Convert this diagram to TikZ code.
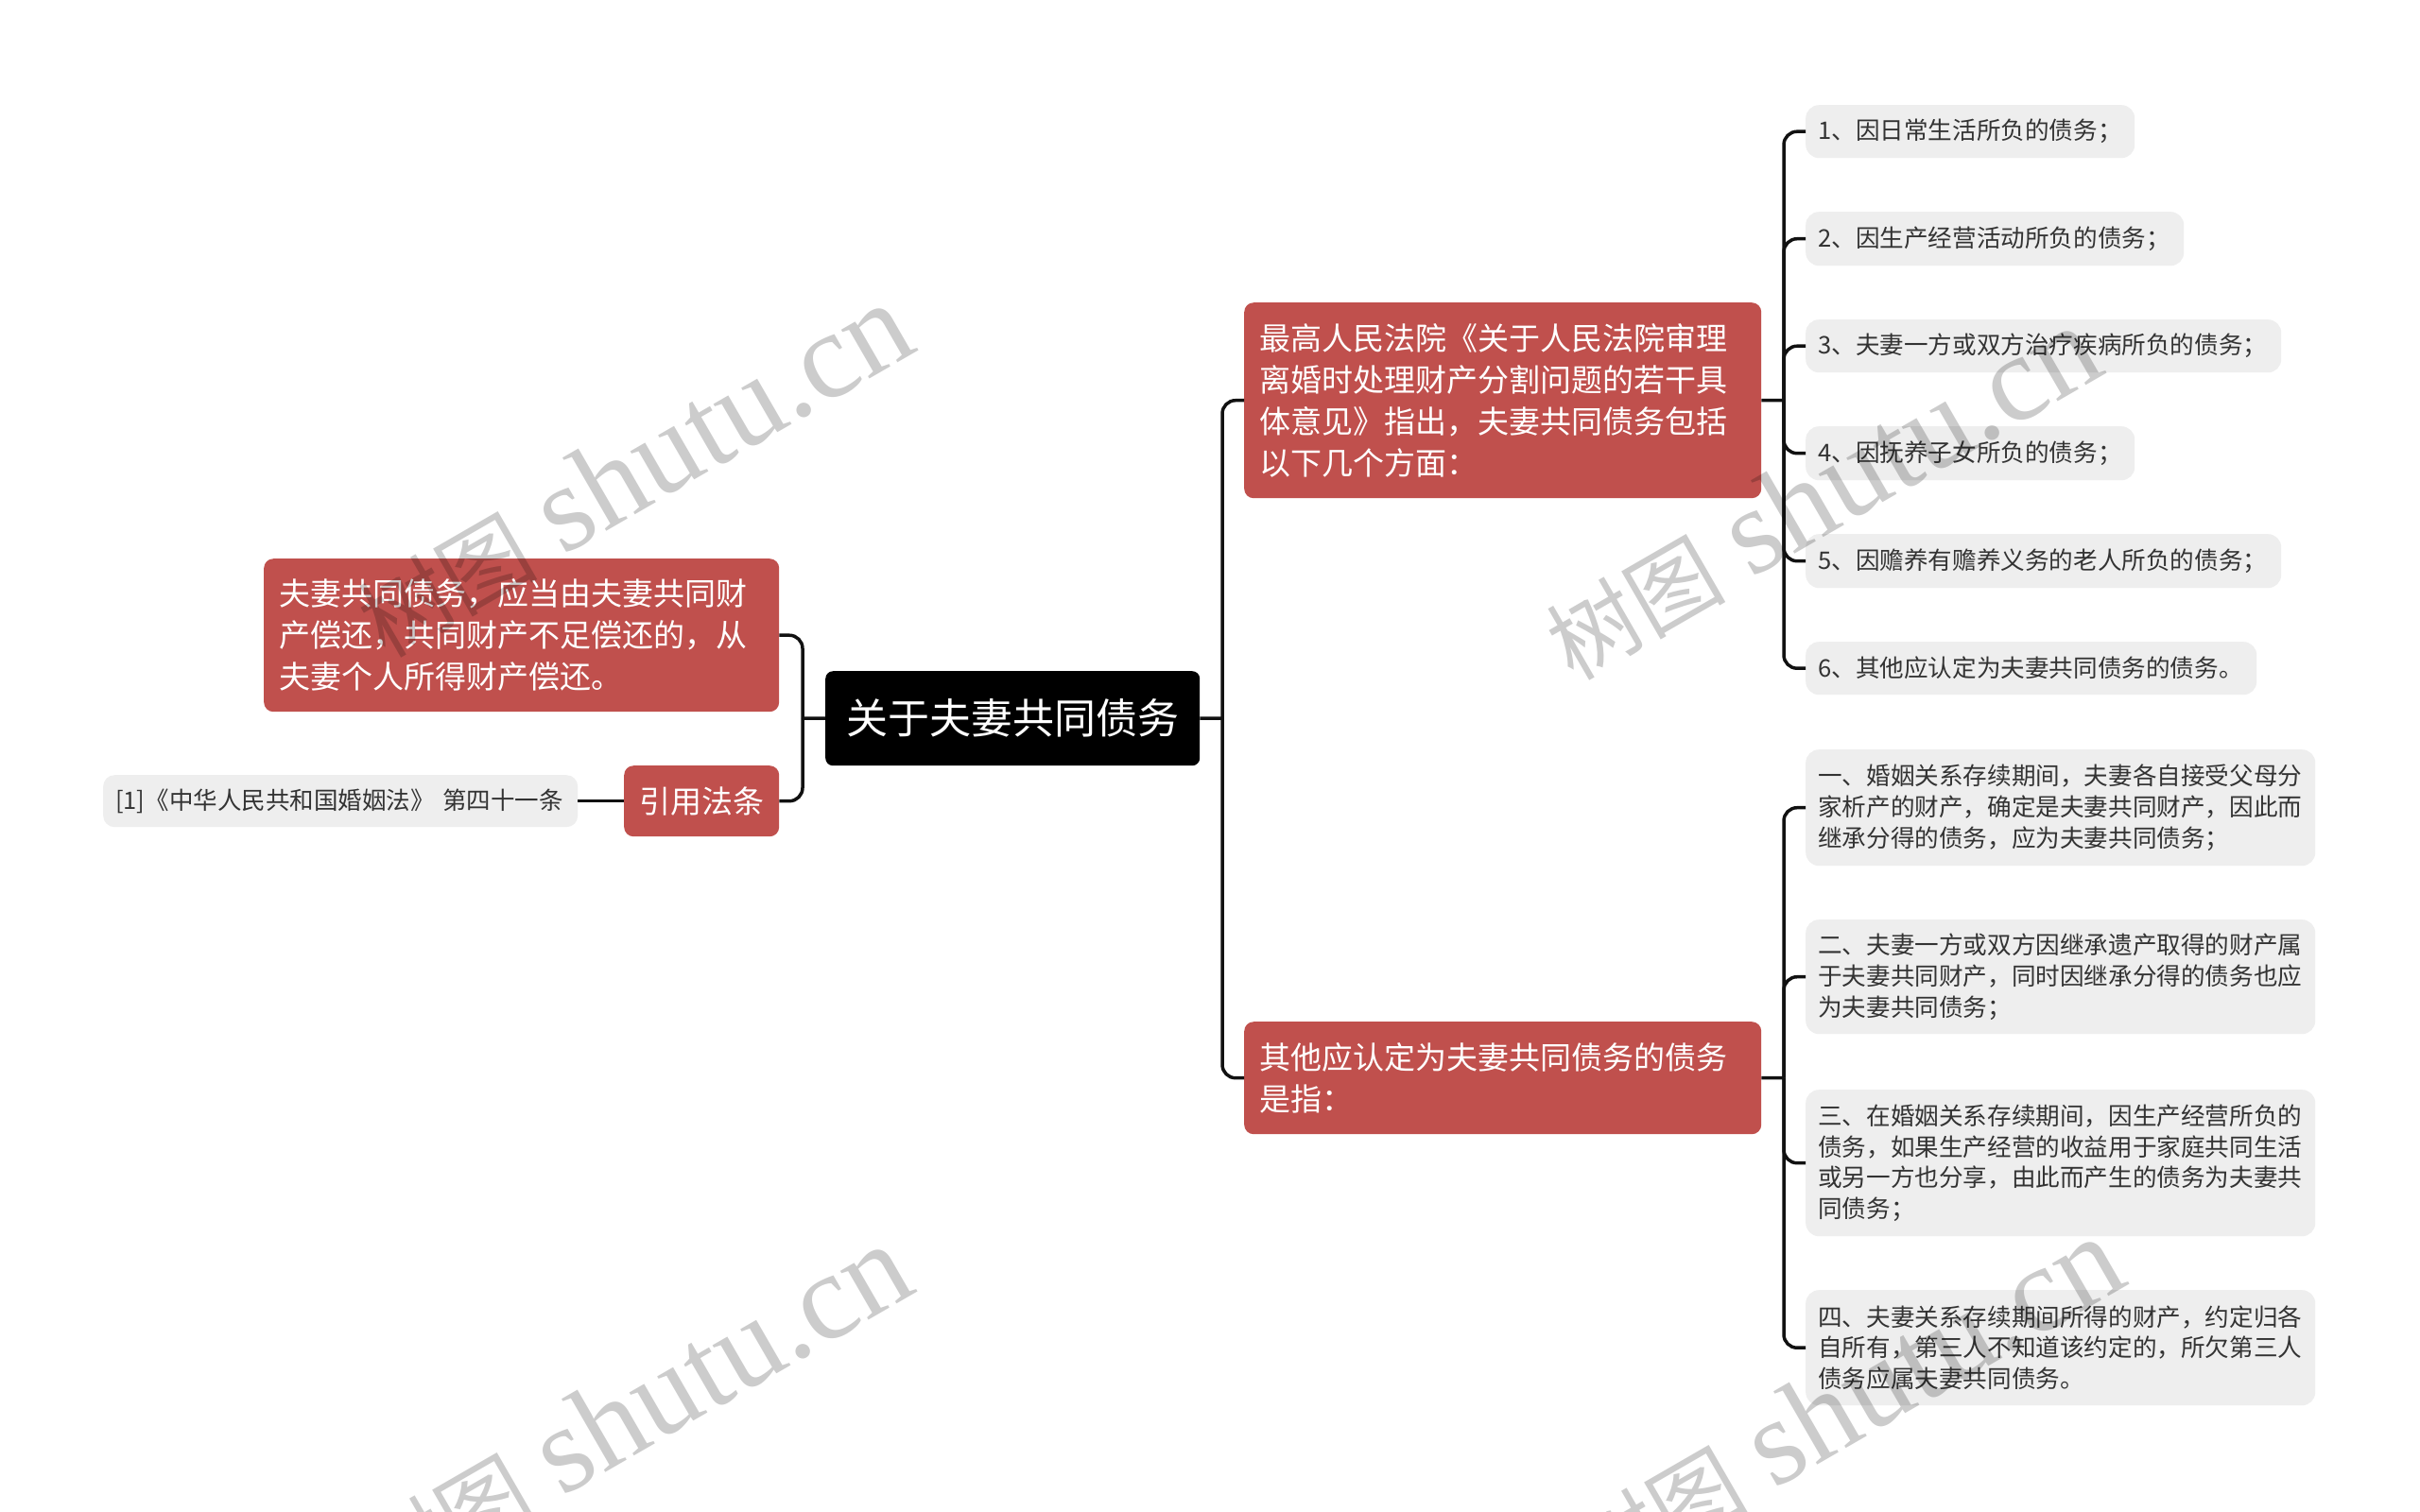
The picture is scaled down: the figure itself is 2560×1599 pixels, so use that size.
\documentclass[tikz,border=0pt]{standalone}
\usepackage{fontspec}
\setmainfont{Noto Sans CJK SC}
\newfontfamily\wmlatin{Liberation Serif}
\definecolor{redc}{HTML}{C0504D}
\definecolor{grayc}{HTML}{EEEEEE}
\definecolor{graytext}{HTML}{333333}
\definecolor{linec}{HTML}{111111}
\begin{document}
\begin{tikzpicture}[x=1pt,y=-1pt,
  rednode/.style={fill=redc, text=white, rounded corners=10pt, font=\fontsize{33}{44}\selectfont, align=left, inner xsep=16pt, inner ysep=0pt, anchor=north west},
  graynode/.style={fill=grayc, text=graytext, rounded corners=14pt, font=\fontsize{25.6}{32.7}\selectfont, align=left, inner xsep=13pt, inner ysep=0pt, anchor=north west},
  rootnode/.style={fill=black, text=white, rounded corners=8pt, font=\fontsize{44}{50}\selectfont, align=center, inner sep=0pt, anchor=north west},
  conn/.style={draw=linec, line width=3.5pt, rounded corners=14pt},
  wmark/.style={rotate=30, text=black, text opacity=0.2, inner sep=0pt}]
\fill[white] (0,0) rectangle (2560,1599);
\useasboundingbox (0,0) rectangle (2560,1599);

% root
\node[rootnode, minimum width=396pt, minimum height=100pt] (root) at (873,710) {关于夫妻共同债务};

% left side
\node[rednode, minimum width=545pt, minimum height=162pt, text width=513pt] (l1) at (279,591)
  {夫妻共同债务，应当由夫妻共同财\\产偿还，共同财产不足偿还的，从\\夫妻个人所得财产偿还。};
\node[rednode, minimum width=164pt, minimum height=75pt, align=center, inner xsep=0pt] (ref) at (660,810) {引用法条};
\node[graynode, minimum width=502pt, minimum height=55pt, text width=476pt, font=\fontsize{25.5}{30}\selectfont, rounded corners=12pt] (cite) at (109,820)
  {[1]《中华人民共和国婚姻法》 第四十一条};

% right main branches
\node[rednode, minimum width=547pt, minimum height=207pt, text width=515pt] (r1) at (1316,320)
  {最高人民法院《关于人民法院审理\\离婚时处理财产分割问题的若干具\\体意见》指出，夫妻共同债务包括\\以下几个方面：};
\node[rednode, minimum width=547pt, minimum height=119pt, text width=515pt] (r2) at (1316,1081)
  {其他应认定为夫妻共同债务的债务\\是指：};

% top group
\node[graynode, minimum width=348pt, minimum height=56pt, text width=322pt] (a1) at (1910,111) {1、因日常生活所负的债务；};
\node[graynode, minimum width=400pt, minimum height=57pt, text width=374pt] (a2) at (1910,224) {2、因生产经营活动所负的债务；};
\node[graynode, minimum width=503pt, minimum height=56pt, text width=477pt] (a3) at (1910,338) {3、夫妻一方或双方治疗疾病所负的债务；};
\node[graynode, minimum width=348pt, minimum height=57pt, text width=322pt] (a4) at (1910,451) {4、因抚养子女所负的债务；};
\node[graynode, minimum width=503pt, minimum height=57pt, text width=477pt] (a5) at (1910,565) {5、因赡养有赡养义务的老人所负的债务；};
\node[graynode, minimum width=477pt, minimum height=56pt, text width=451pt] (a6) at (1910,679) {6、其他应认定为夫妻共同债务的债务。};

% bottom group
\node[graynode, minimum width=539pt, minimum height=123pt, text width=513pt] (b1) at (1910,793)
  {一、婚姻关系存续期间，夫妻各自接受父母分\\家析产的财产，确定是夫妻共同财产，因此而\\继承分得的债务，应为夫妻共同债务；};
\node[graynode, minimum width=539pt, minimum height=121pt, text width=513pt] (b2) at (1910,973)
  {二、夫妻一方或双方因继承遗产取得的财产属\\于夫妻共同财产，同时因继承分得的债务也应\\为夫妻共同债务；};
\node[graynode, minimum width=539pt, minimum height=155pt, text width=513pt] (b3) at (1910,1153)
  {三、在婚姻关系存续期间，因生产经营所负的\\债务，如果生产经营的收益用于家庭共同生活\\或另一方也分享，由此而产生的债务为夫妻共\\同债务；};
\node[graynode, minimum width=539pt, minimum height=122pt, text width=513pt] (b4) at (1910,1365)
  {四、夫妻关系存续期间所得的财产，约定归各\\自所有，第三人不知道该约定的，所欠第三人\\债务应属夫妻共同债务。};

% connectors
\coordinate (rr) at (1293,760);
\coordinate (lr) at (849,760);
\coordinate (g1) at (1887,423.5);
\coordinate (g2) at (1887,1140.5);

\draw[conn] (root.east) -- (rr);
\draw[conn] (rr) |- (r1.west);
\draw[conn] (rr) |- (r2.west);

\draw[conn] (root.west) -- (lr);
\draw[conn] (lr) |- (l1.east);
\draw[conn] (lr) |- (ref.east);
\draw[conn] (ref.west) -- (cite.east);

\draw[conn] (r1.east) -- (g1);
\foreach \c in {a1,a2,a3,a4,a5,a6} { \draw[conn] (g1) |- (\c.west); }
\draw[conn] (r2.east) -- (g2);
\foreach \c in {b1,b2,b3,b4} { \draw[conn] (g2) |- (\c.west); }

% watermarks
\newcommand{\wmtext}{{\fontsize{95}{95}\selectfont 树图}\hspace{28pt}{\wmlatin\fontsize{130}{130}\selectfont shutu.cn}}
\node[wmark] (w1) at (670,498) {\wmtext};
\node[wmark] (w2) at (1927,522) {\wmtext};
\node[wmark] (w3) at (669,1494) {\wmtext};
\node[wmark] (w4) at (1951,1486) {\wmtext};
\end{tikzpicture}
\end{document}
